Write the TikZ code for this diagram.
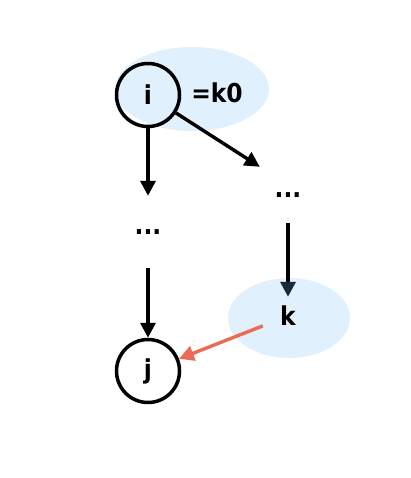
\documentclass[tikz,border=0pt]{standalone}
\usepackage{fontspec}
\setmainfont{DejaVu Sans Condensed}
\usetikzlibrary{arrows.meta,shapes.geometric}
\definecolor{hl}{HTML}{E1F0FD}
\definecolor{redarr}{HTML}{EC6B55}
\definecolor{navy}{HTML}{1B2A38}
\tikzset{
  every node/.style={font=\bfseries\fontsize{26}{30}\selectfont, inner sep=0pt},
  circ/.style={circle, draw=black, line width=3.5pt, minimum size=63pt},
  hlell/.style={ellipse, fill=hl, draw=none},
  arr/.style={line width=3.4pt, -{Triangle[length=15pt,width=15pt]}},
}
\begin{document}
\begin{tikzpicture}[x=1pt,y=-1pt]
\useasboundingbox (0,0) rectangle (410,478);
\node[hlell, minimum width=154pt, minimum height=84pt] (e1) at (192,89) {};
\node[hlell, minimum width=122pt, minimum height=80pt] (e2) at (289,318) {};
\node[circ] (i) at (148,95) {\raisebox{-2pt}{i}};
\node (k0) at (217,93) {=k0};
\node[minimum height=72pt] (l) at (148,232) {...};
\node[minimum width=56pt, minimum height=56pt] (r) at (288,195) {...};
\node[minimum width=50pt, minimum height=38pt] (k) at (288,316) {k};
\node[circ] (j) at (148,371) {j};
\draw[arr] (i) -- (l);
\draw[arr] (i) -- (r.north west);
\draw[arr] (l) -- (j);
\draw[line width=3.4pt, -{Triangle[length=15pt,width=15pt,color=navy,fill=navy]}] (r) -- (k);
\draw[arr, redarr] (k) -- (j);
\end{tikzpicture}
\end{document}
